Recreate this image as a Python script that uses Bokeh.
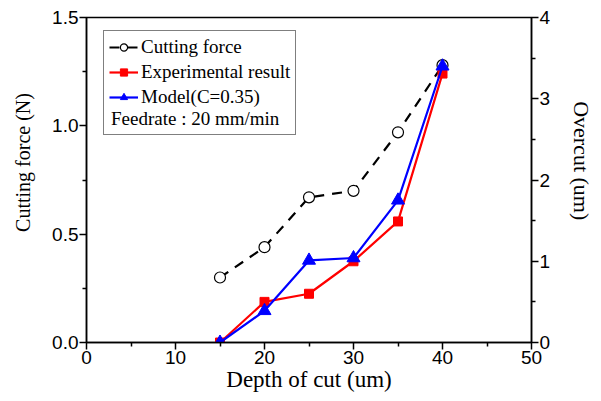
from bokeh.plotting import figure
from bokeh.models import (Range1d, LinearAxis, FixedTicker, Legend, LegendItem,
                          NumeralTickFormatter)
from bokeh.embed import file_html
from bokeh.resources import INLINE

# ---- data ----
depth = [15, 20, 25, 30, 35, 40]
cutting_force = [0.30, 0.44, 0.67, 0.70, 0.97, 1.28]
experimental = [0.0, 0.50, 0.60, 1.00, 1.49, 3.31]
model = [0.0, 0.39, 1.01, 1.04, 1.75, 3.40]

x_ticks = [0, 10, 20, 30, 40, 50]
x_minor = [5, 15, 25, 35, 45]
left_ticks = [0.0, 0.5, 1.0, 1.5]
left_minor = [0.25, 0.75, 1.25]
right_ticks = [0, 1, 2, 3, 4]
right_minor = [0.5, 1.5, 2.5, 3.5]

legend_labels = ["Cutting force", "Experimental result", "Model(C=0.35)"]
note_text = "Feedrate : 20 mm/min"

SERIF = "Liberation Serif"
SANS = "Liberation Sans"
PAD = "\u00a0" * 7  # shifts the side titles a little upward, as in the original

p = figure(width=601, height=401, output_backend="svg", toolbar_location=None,
           x_range=Range1d(0, 50), y_range=Range1d(0, 1.5),
           min_border_left=86, min_border_right=70, min_border_top=17,
           min_border_bottom=59, x_axis_location=None, y_axis_location=None)
p.grid.visible = False
p.outline_line_color = "black"
p.outline_line_width = 1.5
p.background_fill_color = "white"
p.border_fill_color = "white"

p.extra_y_ranges = {"overcut": Range1d(0, 4)}


def style_axis(ax, ticks, minor):
    ax.ticker = FixedTicker(ticks=ticks, minor_ticks=minor)
    ax.axis_line_color = "black"
    ax.axis_line_width = 1.5
    ax.major_tick_line_width = 1.5
    ax.minor_tick_line_width = 1.5
    ax.major_tick_in = 0
    ax.major_tick_out = 7
    ax.minor_tick_in = 0
    ax.minor_tick_out = 4
    ax.major_label_text_font = SANS
    ax.major_label_text_font_size = "19px"
    ax.major_label_text_color = "black"
    ax.axis_label_text_font = SERIF
    ax.axis_label_text_font_size = "22px"
    ax.axis_label_text_font_style = "normal"
    ax.axis_label_text_color = "black"
    ax.major_label_standoff = 1
    ax.axis_label_standoff = 4


xax = LinearAxis(axis_label="Depth of cut (um)")
style_axis(xax, x_ticks, x_minor)
xax.axis_label_standoff = 0
xax.axis_label_text_font_size = "23px"
p.add_layout(xax, "below")

yax = LinearAxis(axis_label=PAD + "Cutting force (N)")
style_axis(yax, left_ticks, left_minor)
yax.formatter = NumeralTickFormatter(format="0.0")
yax.axis_label_standoff = 15
yax.axis_label_text_font_size = "20px"
p.add_layout(yax, "left")

rax = LinearAxis(y_range_name="overcut", axis_label="Overcut (um)" + PAD)
style_axis(rax, right_ticks, right_minor)
rax.axis_label_standoff = 16
p.add_layout(rax, "right")

# ---- series ----
cf_line = p.line(depth, cutting_force, line_color="black", line_width=2.2,
                 line_dash="10 8")
cf_pts = p.scatter(depth, cutting_force, marker="circle", size=11,
                   fill_color="white", line_color="black", line_width=1.2)

ex_line = p.line(depth, experimental, y_range_name="overcut", line_color="#ff0000",
                 line_width=2.2)
ex_pts = p.scatter(depth, experimental, y_range_name="overcut", marker="square",
                   size=9, fill_color="#ff0000", line_color="#ff0000")

md_line = p.line(depth, model, y_range_name="overcut", line_color="#0000ff",
                 line_width=2.2)
md_pts = p.scatter(depth, model, y_range_name="overcut", marker="triangle",
                   size=13, fill_color="#0000ff", line_color="#0000ff")

blank = p.line([0], [0], line_alpha=0)


def style_legend(lg):
    lg.label_text_font = SERIF
    lg.label_text_font_size = "19px"
    lg.label_text_color = "black"
    lg.glyph_height = 18
    lg.label_height = 18
    lg.spacing = 3
    lg.margin = 0


legend = Legend(items=[
    LegendItem(label=legend_labels[0], renderers=[cf_line, cf_pts]),
    LegendItem(label=legend_labels[1], renderers=[ex_line, ex_pts]),
    LegendItem(label=legend_labels[2], renderers=[md_line, md_pts]),
    LegendItem(label=" ", renderers=[blank]),
], location=(17, 207))
style_legend(legend)
legend.label_standoff = 3
legend.glyph_width = 29
legend.padding = 5
legend.border_line_color = "black"
legend.border_line_width = 1.2
legend.background_fill_alpha = 1
p.add_layout(legend, "center")

note = Legend(items=[LegendItem(label=note_text, renderers=[blank])],
              location=(25, 212))
style_legend(note)
note.glyph_width = 0
note.label_standoff = 0
note.padding = 0
note.border_line_alpha = 0
note.background_fill_alpha = 0
p.add_layout(note, "center")

open("out.html", "w").write(file_html(p, INLINE))
